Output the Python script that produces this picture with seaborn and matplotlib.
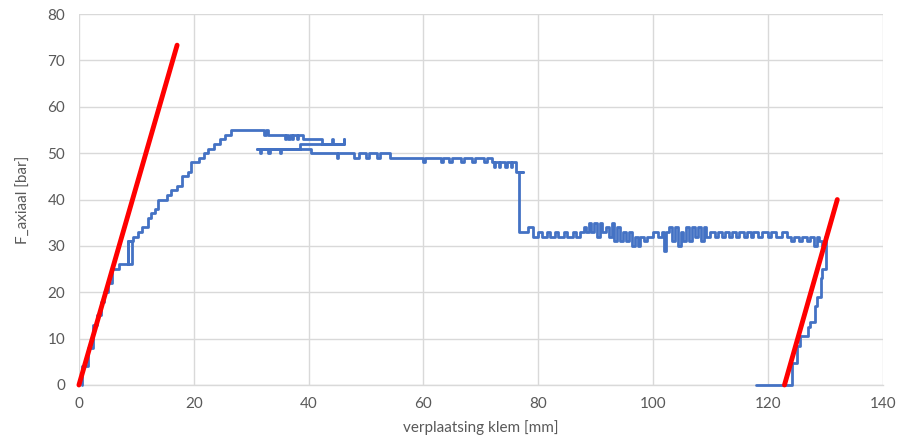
import matplotlib
matplotlib.use("Agg")
from matplotlib import pyplot as plt
import seaborn as sns

# measured curve (step-wise logger output), x = verplaatsing [mm], y = F [bar]
rise_x = [0.6, 0.6, 1.5, 2.5, 3.2, 3.8, 4.3, 5.0, 5.8, 7.0, 9.2, 8.5, 8.5, 9.5, 10.3, 11.0, 12.0, 12.5,
          13.3, 13.8, 15.3, 16.0, 17.0, 18.0, 19.0, 19.5, 21.0, 21.7, 22.5, 23.5, 24.5, 25.5]
rise_y = [0, 4, 8, 13, 15, 18, 20, 22, 25, 26, 31, 26, 31, 32, 33, 34, 36, 37,
          38, 40, 41, 42, 43, 45, 46, 48, 49, 50, 51, 52, 53, 54]

top_x = [26.5, 32.3, 32.5, 33.0, 35.9, 36.1, 36.5, 36.7, 37.1, 37.3, 38.0, 38.2, 39.0, 42.3, 44.0, 44.2,
         46.1, 46.1, 38.5, 31.0, 31.5, 31.7, 33.0, 33.2, 35.0, 35.2, 40.5, 45.0, 45.2, 48.0, 48.7, 50.0,
         50.5, 52.0, 52.5, 54.2, 60.0, 60.2, 63.0, 63.5, 64.5, 65.0, 66.5, 67.0, 68.5, 69.0, 70.5, 71.0,
         72.0, 72.3, 72.5, 73.2, 73.4, 74.3, 74.5, 75.2, 75.4, 76.2, 77.3, 76.6]
top_y = [55, 54, 55, 54, 53, 54, 53, 54, 53, 54, 53, 54, 53, 52, 53, 52,
         53, 52, 51, 51, 50, 51, 50, 51, 50, 51, 50, 49, 50, 49, 50, 49,
         50, 49, 50, 49, 48, 49, 48, 49, 48, 49, 48, 49, 48, 49, 48, 49,
         48, 47, 48, 47, 48, 47, 48, 47, 48, 46, 46, 33]

plateau_x = [77.5, 78.2, 79.1, 80.0, 80.6, 81.5, 82.0, 83.0, 83.5, 84.5, 85.0, 86.0, 86.5, 87.3, 88.0,
             88.4, 88.8, 89.2, 89.8, 90.2, 90.8, 91.2, 91.8, 92.3, 92.8, 93.2, 93.8, 94.2, 94.8, 95.3,
             95.8, 96.3, 96.8, 97.3, 97.8, 98.5, 99.0, 100.0, 100.8, 101.5, 102.0, 102.3, 102.8, 103.3,
             103.8, 104.3, 104.8, 105.3, 105.8, 106.3, 106.8, 107.3, 107.8, 108.3, 108.8, 109.3, 110.0,
             110.8, 111.3, 112.0, 112.5, 113.2, 113.7, 114.5, 115.0, 115.8, 116.3, 117.0, 117.5, 118.3,
             119.0, 120.0, 120.5, 121.5, 122.5, 123.3, 124.0, 124.5, 125.5, 126.0, 126.8, 127.3, 128.0,
             128.5, 129.0, 129.5, 130.0]
plateau_y = [33, 34, 32, 33, 32, 33, 32, 33, 32, 33, 32, 33, 32, 33, 34,
             33, 35, 33, 35, 32, 35, 33, 34, 32, 35, 31, 34, 31, 33, 31,
             33, 30, 32, 30, 32, 31, 32, 33, 32, 33, 29, 33, 34, 31,
             34, 30, 33, 31, 34, 31, 34, 32, 34, 31, 34, 32, 33,
             32, 33, 32, 33, 32, 33, 32, 33, 32, 33, 32, 33, 32,
             33, 32, 33, 32, 33, 32, 31, 32, 31, 32, 31, 32, 30,
             32, 31, 30, 32]

unload_x = [130.2, 129.4, 129.3, 128.5, 128.3, 127.4, 127.0, 125.6, 125.0, 124.2, 124.2, 118.0]
unload_y = [25, 23, 19, 17, 13.5, 12.5, 10.5, 8.5, 4.7, 4, 0, 0]

blue_x = rise_x + top_x + plateau_x + unload_x
blue_y = rise_y + top_y + plateau_y + unload_y

# stiffness lines
fit1_x = [0, 17.1]
fit1_y = [0, 73.3]
fit2_x = [122.9, 132.1]
fit2_y = [0, 40]

sns.set_theme(style="white")
plt.rcParams['font.family'] = ['Lato', 'DejaVu Sans']

fig, ax = plt.subplots(figsize=(8.97, 4.41), dpi=100)
fig.subplots_adjust(left=0.088, right=0.984, bottom=0.127, top=0.968)

sns.lineplot(x=blue_x, y=blue_y, sort=False, estimator=None, color="#4472C4",
             linewidth=2.0, drawstyle="steps-post", clip_on=False, ax=ax)
sns.lineplot(x=fit1_x, y=fit1_y, sort=False, estimator=None, color="#FF0000", linewidth=3.5,
             clip_on=False, ax=ax)
sns.lineplot(x=fit2_x, y=fit2_y, sort=False, estimator=None, color="#FF0000", linewidth=3.5,
             clip_on=False, ax=ax)

ax.set_xlim(0, 140)
ax.set_ylim(0, 80)
ax.set_xticks(range(0, 141, 20))
ax.set_yticks(range(0, 81, 10))
ax.grid(True, color="#d9d9d9", linewidth=1)
ax.set_axisbelow(True)
for s in ["top", "right", "left"]:
    ax.spines[s].set_visible(False)
ax.spines["bottom"].set_color("#d9d9d9")
ax.spines["bottom"].set_linewidth(1)
ax.spines["bottom"].set_zorder(0.5)
ax.tick_params(axis="both", length=0, labelsize=11, labelcolor="#595959")
ax.tick_params(axis="y", pad=10)
ax.tick_params(axis="x", pad=9)
ax.set_xlabel("verplaatsing klem [mm]", fontsize=11, color="#595959", labelpad=6)
ax.set_ylabel("F_axiaal [bar]", fontsize=11, color="#595959", labelpad=12)

plt.savefig("out.png", dpi=100)
